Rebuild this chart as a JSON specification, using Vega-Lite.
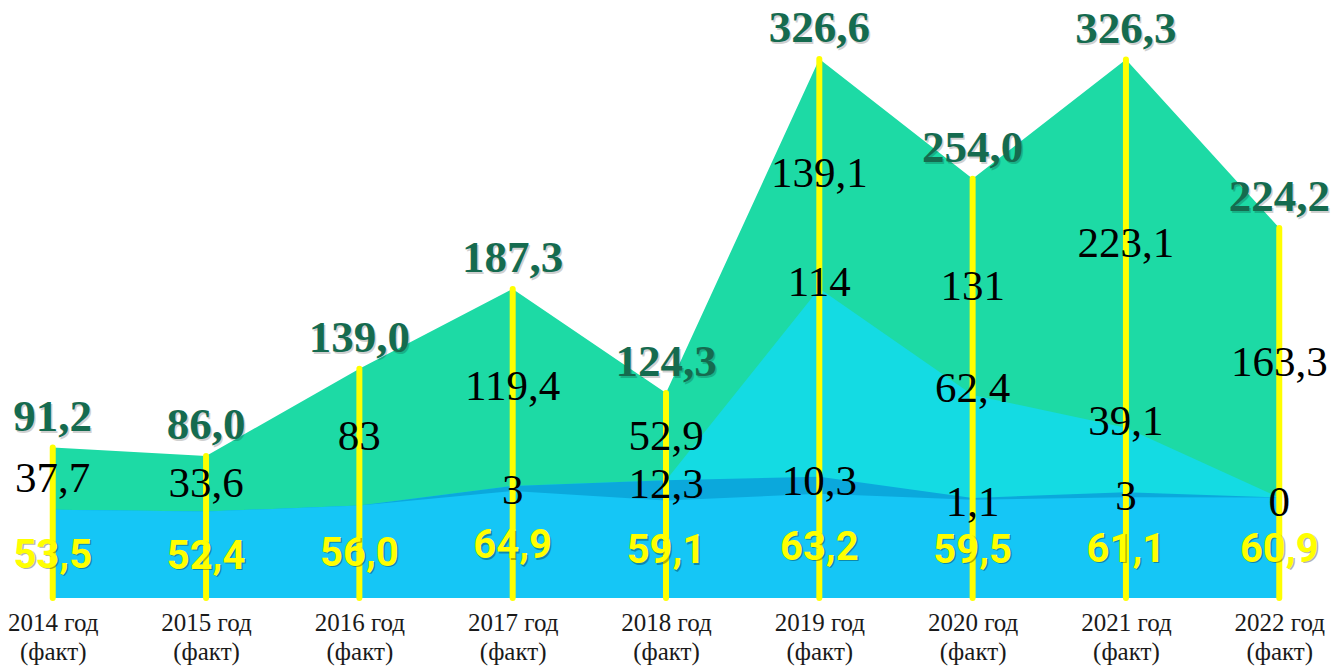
{
  "$schema": "https://vega.github.io/schema/vega-lite/v6.json",
  "width": 1332,
  "height": 598,
  "autosize": {"type": "none"},
  "padding": {"left": 0, "top": 0, "right": 0, "bottom": 70},
  "background": "white",
  "config": {
    "view": {"stroke": null},
    "locale": {"number": {"decimal": ",", "thousands": " ", "grouping": [3], "currency": ["", ""]}}
  },
  "data": {
    "values": [
      {"year": "2014 год", "series": "s1", "value": 53.5},
      {"year": "2015 год", "series": "s1", "value": 52.4},
      {"year": "2016 год", "series": "s1", "value": 56.0},
      {"year": "2017 год", "series": "s1", "value": 64.9},
      {"year": "2018 год", "series": "s1", "value": 59.1},
      {"year": "2019 год", "series": "s1", "value": 63.2},
      {"year": "2020 год", "series": "s1", "value": 59.5},
      {"year": "2021 год", "series": "s1", "value": 61.1},
      {"year": "2022 год", "series": "s1", "value": 60.9},
      {"year": "2014 год", "series": "s2", "value": null},
      {"year": "2015 год", "series": "s2", "value": null},
      {"year": "2016 год", "series": "s2", "value": null},
      {"year": "2017 год", "series": "s2", "value": 3},
      {"year": "2018 год", "series": "s2", "value": 12.3},
      {"year": "2019 год", "series": "s2", "value": 10.3},
      {"year": "2020 год", "series": "s2", "value": 1.1},
      {"year": "2021 год", "series": "s2", "value": 3},
      {"year": "2022 год", "series": "s2", "value": 0},
      {"year": "2014 год", "series": "s3", "value": null},
      {"year": "2015 год", "series": "s3", "value": null},
      {"year": "2016 год", "series": "s3", "value": null},
      {"year": "2017 год", "series": "s3", "value": null},
      {"year": "2018 год", "series": "s3", "value": null},
      {"year": "2019 год", "series": "s3", "value": 114},
      {"year": "2020 год", "series": "s3", "value": 62.4},
      {"year": "2021 год", "series": "s3", "value": 39.1},
      {"year": "2022 год", "series": "s3", "value": null},
      {"year": "2014 год", "series": "s4", "value": 37.7},
      {"year": "2015 год", "series": "s4", "value": 33.6},
      {"year": "2016 год", "series": "s4", "value": 83},
      {"year": "2017 год", "series": "s4", "value": 119.4},
      {"year": "2018 год", "series": "s4", "value": 52.9},
      {"year": "2019 год", "series": "s4", "value": 139.1},
      {"year": "2020 год", "series": "s4", "value": 131},
      {"year": "2021 год", "series": "s4", "value": 223.1},
      {"year": "2022 год", "series": "s4", "value": 163.3}
    ]
  },
  "transform": [
    {"stack": "value", "groupby": ["year"], "sort": [{"field": "series", "order": "ascending"}], "as": ["lo", "hi"]},
    {"calculate": "(datum.lo + datum.hi) / 2", "as": "mid"}
  ],
  "encoding": {
    "x": {
      "field": "year",
      "type": "ordinal",
      "scale": {"type": "point", "padding": 0.344},
      "axis": {
        "title": null,
        "domain": false,
        "ticks": false,
        "grid": false,
        "labelAngle": 0,
        "labelFont": "Liberation Serif",
        "labelFontSize": 25,
        "labelColor": "#1a1a1a",
        "labelPadding": 12,
        "labelBaseline": "top",
        "labelLineHeight": 29,
        "labelOverlap": false,
        "labelExpr": "[datum.label, '(факт)']"
      }
    }
  },
  "layer": [
    {
      "transform": [{"filter": "datum.series == 's4'"}],
      "mark": {"type": "area", "color": "#1DDAA5", "interpolate": "linear"},
      "encoding": {"y": {"field": "hi", "type": "quantitative", "stack": null, "scale": {"domain": [0, 362.4], "nice": false, "zero": true}, "axis": null}}
    },
    {
      "transform": [{"filter": "datum.series == 's3'"}],
      "mark": {"type": "area", "color": "#14DBE3", "interpolate": "linear"},
      "encoding": {"y": {"field": "hi", "type": "quantitative", "stack": null, "scale": {"domain": [0, 362.4], "nice": false, "zero": true}, "axis": null}}
    },
    {
      "transform": [{"filter": "datum.series == 's2'"}],
      "mark": {"type": "area", "color": "#0BA8DC", "interpolate": "linear"},
      "encoding": {"y": {"field": "hi", "type": "quantitative", "stack": null, "scale": {"domain": [0, 362.4], "nice": false, "zero": true}, "axis": null}}
    },
    {
      "transform": [{"filter": "datum.series == 's1'"}],
      "mark": {"type": "area", "color": "#15C6F6", "interpolate": "linear"},
      "encoding": {"y": {"field": "hi", "type": "quantitative", "stack": null, "scale": {"domain": [0, 362.4], "nice": false, "zero": true}, "axis": null}}
    },
    {
      "transform": [{"filter": "datum.series == 's4'"}],
      "mark": {"type": "rule", "color": "#FFFF00", "strokeWidth": 6, "strokeCap": "round"},
      "encoding": {
        "y": {"field": "hi", "type": "quantitative", "stack": null, "scale": {"domain": [0, 362.4], "nice": false, "zero": true}, "axis": null},
        "y2": {"datum": 0}
      }
    },
    {
      "transform": [{"filter": "datum.series == 's4'"}],
      "mark": {"type": "text", "font": "Liberation Serif", "fontWeight": "bold", "fontSize": 45, "color": "#000000", "opacity": 0.18, "baseline": "alphabetic", "dx": 1.5, "dy": -15},
      "encoding": {
        "y": {"field": "hi", "type": "quantitative", "stack": null, "scale": {"domain": [0, 362.4], "nice": false, "zero": true}, "axis": null},
        "text": {"field": "hi", "type": "quantitative", "format": ".1f"}
      }
    },
    {
      "transform": [{"filter": "datum.series == 's4'"}],
      "mark": {"type": "text", "font": "Liberation Serif", "fontWeight": "bold", "fontSize": 45, "color": "#156B4F", "baseline": "alphabetic", "dy": -17},
      "encoding": {
        "y": {"field": "hi", "type": "quantitative", "stack": null, "scale": {"domain": [0, 362.4], "nice": false, "zero": true}, "axis": null},
        "text": {"field": "hi", "type": "quantitative", "format": ".1f"}
      }
    },
    {
      "transform": [{"filter": "datum.series == 's4'"}],
      "mark": {"type": "text", "font": "Liberation Serif", "fontSize": 43, "color": "#000000", "baseline": "middle"},
      "encoding": {
        "y": {"field": "mid", "type": "quantitative", "stack": null, "scale": {"domain": [0, 362.4], "nice": false, "zero": true}, "axis": null},
        "text": {"field": "value", "type": "quantitative", "format": ".1~f"}
      }
    },
    {
      "transform": [{"filter": "datum.series == 's3' && isValid(datum.value)"}],
      "mark": {"type": "text", "font": "Liberation Serif", "fontSize": 43, "color": "#000000", "baseline": "middle", "dy": -6},
      "encoding": {
        "y": {"field": "hi", "type": "quantitative", "stack": null, "scale": {"domain": [0, 362.4], "nice": false, "zero": true}, "axis": null},
        "text": {"field": "value", "type": "quantitative", "format": ".1~f"}
      }
    },
    {
      "transform": [{"filter": "datum.series == 's2' && isValid(datum.value)"}],
      "mark": {"type": "text", "font": "Liberation Serif", "fontSize": 43, "color": "#000000", "baseline": "middle", "dy": 5},
      "encoding": {
        "y": {"field": "hi", "type": "quantitative", "stack": null, "scale": {"domain": [0, 362.4], "nice": false, "zero": true}, "axis": null},
        "text": {"field": "value", "type": "quantitative", "format": ".1~f"}
      }
    },
    {
      "transform": [{"filter": "datum.series == 's1'"}],
      "mark": {"type": "text", "font": "Roboto", "fontWeight": "bold", "fontSize": 40, "color": "#000000", "opacity": 0.3, "baseline": "middle", "dx": 1.5, "dy": 3.5},
      "encoding": {
        "y": {"field": "mid", "type": "quantitative", "stack": null, "scale": {"domain": [0, 362.4], "nice": false, "zero": true}, "axis": null},
        "text": {"field": "value", "type": "quantitative", "format": ".1f"}
      }
    },
    {
      "transform": [{"filter": "datum.series == 's1'"}],
      "mark": {"type": "text", "font": "Roboto", "fontWeight": "bold", "fontSize": 40, "color": "#FFFF00", "baseline": "middle", "dy": 2},
      "encoding": {
        "y": {"field": "mid", "type": "quantitative", "stack": null, "scale": {"domain": [0, 362.4], "nice": false, "zero": true}, "axis": null},
        "text": {"field": "value", "type": "quantitative", "format": ".1f"}
      }
    }
  ]
}
